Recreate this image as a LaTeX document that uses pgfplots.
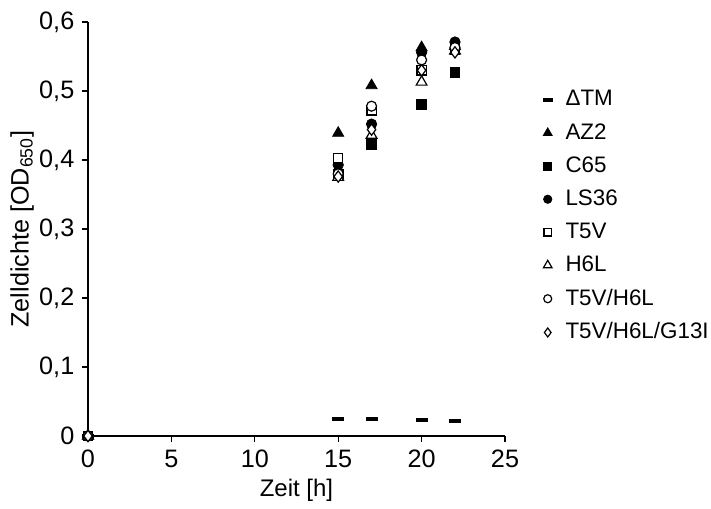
\documentclass[border=0pt]{standalone}
\usepackage{fontspec}
\setmainfont{Liberation Sans}
\usepackage{pgfplots}
\pgfplotsset{compat=1.18}
\begin{document}
\fontsize{11}{13}\selectfont
\begin{tikzpicture}
\useasboundingbox (-44pt,-36pt) rectangle (311.5pt,218pt);
\begin{axis}[
  scale only axis, width=208.5pt, height=207pt,
  xmin=0, xmax=25, ymin=0, ymax=0.6,
  axis lines=left, axis line style={-, line width=0.6pt},
  tick align=outside, major tick length=3pt, tick style={line width=0.6pt, black},
  xtick={0,5,...,25}, ytick={0,0.1,...,0.6},
  /pgf/number format/use comma, /pgf/number format/assume math mode=true,
  yticklabel style={/pgf/number format/fixed, /pgf/number format/precision=1},
  ticklabel style={font=\fontsize{12.6}{14}\selectfont},
  xlabel={Zeit [h]}, ylabel={Zelldichte [OD\textsubscript{650}]},
  every axis x label/.style={at={(axis description cs:0.5,-0.13)}, anchor=center, font=\fontsize{12}{14}\selectfont},
  every axis y label/.style={at={(axis description cs:-0.158,0.5)}, rotate=90, anchor=center, font=\fontsize{12.6}{14}\selectfont},
  clip=false,
  legend style={at={(1.09,0.845)}, anchor=north west, draw=none, fill=none,
    font=\fontsize{11.2}{13}\selectfont, row sep=3.1pt, inner sep=0pt,
    /tikz/every odd column/.append style={column sep=4.5pt}},
  legend image post style={scale=0.8},
  legend cell align=left,
]
\addplot[only marks, mark=-, mark size=3pt, line width=1.8pt] coordinates {(0,0) (15,0.025) (17,0.025) (20,0.023) (22,0.022)};
\addlegendentry{ΔTM}
\addplot[only marks, mark=triangle*, mark size=3.2pt, fill=black] coordinates {(0,0) (15,0.439) (17,0.508) (20,0.563) (22,0.565)};
\addlegendentry{AZ2}
\addplot[only marks, mark=square*, mark size=2.4pt, fill=black] coordinates {(0,0) (15,0.38) (17,0.423) (20,0.481) (22,0.527)};
\addlegendentry{C65}
\addplot[only marks, mark=*, mark size=2.6pt, fill=black] coordinates {(0,0) (15,0.393) (17,0.452) (20,0.556) (22,0.571)};
\addlegendentry{LS36}
\addplot[only marks, mark=square*, mark size=2.3pt, fill=white, mark options={line width=0.6pt}] coordinates {(0,0) (15,0.403) (17,0.472) (20,0.53) (22,0.56)};
\addlegendentry{T5V}
\addplot[only marks, mark=triangle*, mark size=3.1pt, fill=white, mark options={line width=0.6pt}] coordinates {(0,0) (15,0.375) (17,0.436) (20,0.513) (22,0.558)};
\addlegendentry{H6L}
\addplot[only marks, mark=*, mark size=2.5pt, fill=white, mark options={line width=0.6pt}] coordinates {(0,0) (15,0.38) (17,0.478) (20,0.545) (22,0.563)};
\addlegendentry{T5V/H6L}
\addplot[only marks, mark=diamond*, mark size=2.8pt, fill=white, mark options={line width=0.6pt}] coordinates {(0,0) (15,0.376) (17,0.444) (20,0.53) (22,0.556)};
\addlegendentry{T5V/H6L/G13I}
\end{axis}
\end{tikzpicture}
\end{document}
